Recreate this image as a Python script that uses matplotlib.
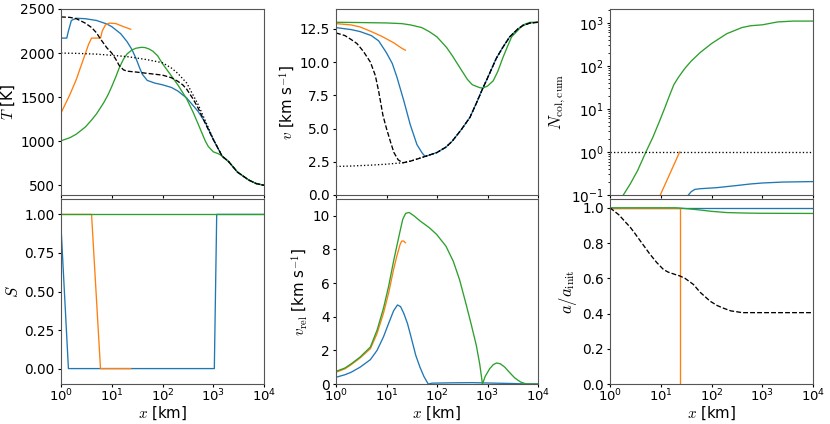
import matplotlib
matplotlib.use("Agg")
import matplotlib.pyplot as plt
from matplotlib.ticker import NullLocator

plt.rcParams['mathtext.fontset'] = 'cm'
plt.rcParams['font.size'] = 10.5
plt.rcParams['axes.labelsize'] = 10.8
plt.rcParams['xtick.labelsize'] = 9.5
plt.rcParams['ytick.labelsize'] = 9.8
plt.rcParams['axes.edgecolor'] = '#555555'
plt.rcParams['axes.linewidth'] = 0.8
plt.rcParams['xtick.major.size'] = 1.8
plt.rcParams['xtick.major.pad'] = 0.6
plt.rcParams['ytick.major.size'] = 2.5
plt.rcParams['ytick.minor.size'] = 1.5
plt.rcParams['ytick.major.pad'] = 2.0
plt.rcParams['axes.labelpad'] = 2.0

C_BLUE, C_ORANGE, C_GREEN = '#1f77b4', '#ff7f0e', '#2ca02c'

# ---------------- Temperature panel ----------------
T_blue_x = [1, 1.3, 1.4, 1.6, 2, 3, 5, 8, 10, 15, 20, 25, 30, 35, 40, 50, 70, 100, 150, 200, 300, 500, 700, 1000,
            1500, 2000, 3000, 5000, 7000, 10000]
T_blue_y = [2170, 2170, 2250, 2370, 2395, 2390, 2370, 2330, 2300, 2220, 2130, 2040, 1940, 1840, 1760, 1690, 1660,
            1640, 1610, 1570, 1490, 1340, 1210, 1020, 830, 770, 650, 560, 520, 500]

T_orange_x = [1, 1.5, 2, 2.5, 3, 3.5, 4, 6, 6.5, 7.5, 9, 12, 17, 23.6]
T_orange_y = [1320, 1530, 1700, 1860, 1990, 2100, 2170, 2170, 2250, 2320, 2340, 2335, 2300, 2270]

T_green_x = [1, 1.5, 2, 3, 4, 5, 6, 7, 8.5, 10, 12, 14, 17, 20, 25, 30, 38, 45, 55, 65, 80, 100, 150, 200, 300, 400,
             500, 700, 800, 1000, 1300, 1500, 2000, 3000, 5000, 7000, 10000]
T_green_y = [1005, 1040, 1080, 1160, 1240, 1310, 1380, 1440, 1530, 1620, 1730, 1830, 1930, 1990, 2035, 2055, 2065,
             2063, 2045, 2020, 1970, 1880, 1740, 1640, 1480, 1330, 1200, 1000, 940, 880, 855, 830, 770, 650, 560, 520,
             500]

T_dash_x = [1, 1.5, 2, 3, 4, 5, 6, 8, 10, 12, 14, 17, 20, 30, 50, 100, 150, 200, 250, 300, 400, 500, 700, 1000,
            1500, 2000, 3000, 5000, 7000, 10000]
T_dash_y = [2410, 2405, 2390, 2340, 2290, 2230, 2160, 2060, 2000, 1930, 1860, 1810, 1795, 1785, 1770, 1750, 1720,
            1680, 1640, 1590, 1480, 1380, 1200, 1020, 830, 770, 650, 560, 520, 500]

T_dot_x = [1, 2, 3, 5, 10, 20, 30, 50, 100, 150, 200, 300, 500, 700, 1000, 1500, 2000, 3000, 5000, 7000, 10000]
T_dot_y = [2000, 1997, 1993, 1988, 1975, 1960, 1945, 1925, 1890, 1830, 1770, 1660, 1420, 1230, 1025, 830, 770, 650,
           560, 520, 500]

# ---------------- Velocity panel ----------------
v_blue_x = [1, 2, 3, 5, 7, 10, 13, 16, 22, 29.5, 40, 50, 58, 100, 150, 200, 300, 450, 600, 800, 1000, 1500, 2000,
            2750, 4000, 5000, 7000, 10000]
v_blue_y = [12.6, 12.45, 12.3, 12.0, 11.6, 10.7, 9.9, 8.9, 7.1, 5.3, 3.8, 3.2, 2.9, 3.2, 3.6, 4.05, 4.9, 5.85, 6.9,
            8.0, 8.8, 10.3, 11.1, 11.9, 12.5, 12.75, 12.95, 13.0]

v_orange_x = [1, 2, 3, 5, 8, 14, 20, 23.6]
v_orange_y = [12.9, 12.8, 12.65, 12.3, 11.95, 11.45, 11.05, 10.9]

v_green_x = [1, 3, 10, 20, 30, 50, 70, 100, 155, 200, 282, 400, 500, 700, 810, 1000, 1300, 1600, 2000, 2500, 3000,
             4000, 5000, 7000, 10000]
v_green_y = [13.0, 12.98, 12.95, 12.9, 12.8, 12.6, 12.3, 11.9, 11.1, 10.5, 9.6, 8.7, 8.3, 8.08, 8.05, 8.2, 8.6,
             9.3, 10.3, 11.2, 11.9, 12.4, 12.8, 13.0, 13.0]

v_dash_x = [1, 1.5, 2, 2.6, 3.5, 4.8, 6, 7, 8.5, 10, 12, 14, 17, 21, 30, 40, 58, 100, 150, 200, 300, 450, 600, 800,
            1000, 1500, 2000, 2750, 4000, 5000, 7000, 10000]
v_dash_y = [12.2, 12.0, 11.7, 11.4, 10.8, 10.0, 9.0, 7.8, 6.0, 5.0, 4.0, 3.2, 2.65, 2.42, 2.55, 2.7, 2.9, 3.2, 3.6,
            4.05, 4.9, 5.85, 6.9, 8.0, 8.8, 10.3, 11.1, 11.9, 12.5, 12.75, 12.95, 13.0]

v_dot_x = [1, 2, 5, 10, 20, 30, 40, 58, 100, 150, 200, 300, 450, 600, 800, 1000, 1500, 2000, 2750, 4000, 5000,
           7000, 10000]
v_dot_y = [2.15, 2.18, 2.25, 2.32, 2.42, 2.55, 2.7, 2.9, 3.2, 3.6, 4.05, 4.9, 5.85, 6.9, 8.0, 8.8, 10.3, 11.1, 11.9,
           12.5, 12.75, 12.95, 13.0]
v_ticks = [0.0, 2.5, 5.0, 7.5, 10.0, 12.5]

# ---------------- Cumulative collisions ----------------
N_blue_x = [35, 40, 47, 60, 126, 300, 575, 1000, 2600, 10000]
N_blue_y = [0.1, 0.12, 0.135, 0.14, 0.148, 0.165, 0.18, 0.19, 0.2, 0.205]

N_orange_x = [9.8, 23.6]
N_orange_y = [0.1, 1.0]

N_green_x = [1.83, 2.5, 3.5, 5.1, 7, 9, 11.8, 15, 18, 22, 26, 30, 40, 60, 100, 200, 400, 600, 1000, 2000, 4000,
             10000]
N_green_y = [0.1, 0.18, 0.37, 1.0, 2.2, 4.5, 10, 21, 36, 53, 70, 88, 130, 205, 330, 560, 780, 860, 900, 1050, 1100,
             1100]

N_ref_x = [1, 10000]
N_ref_y = [1.0, 1.0]

# ---------------- S panel ----------------
S_blue_x = [1, 1.4, 1050, 1170, 10000]
S_blue_y = [0.92, 0.0, 0.0, 1.0, 1.0]

S_orange_x = [1, 4.0, 6.0, 23.6]
S_orange_y = [1.0, 1.0, 0.0, 0.0]

S_green_x = [1, 10000]
S_green_y = [1.0, 1.0]
S_ticks = [0.0, 0.25, 0.5, 0.75, 1.0]

# ---------------- Relative velocity ----------------
vr_blue_x = [1, 1.5, 2, 3, 4.8, 6.5, 8.7, 11, 13.8, 16.5, 19, 22, 26, 30, 38, 46, 55, 67, 80, 200, 500, 1000, 2000,
             3000, 5000, 10000]
vr_blue_y = [0.4, 0.55, 0.7, 1.0, 1.45, 2.0, 2.8, 3.6, 4.35, 4.7, 4.6, 4.2, 3.6, 2.9, 1.7, 1.0, 0.45, 0.0, 0.05,
             0.07, 0.08, 0.06, 0.04, 0.03, 0.01, 0.0]

vr_orange_x = [1, 1.5, 2, 3, 4.8, 6.5, 8.7, 11, 13.8, 16, 18.6, 20, 22, 23.6]
vr_orange_y = [0.7, 0.9, 1.15, 1.55, 2.1, 3.0, 4.2, 5.4, 6.8, 7.6, 8.3, 8.5, 8.5, 8.4]

vr_green_x = [1, 1.5, 2, 3, 4.8, 6.5, 8.7, 11, 13.8, 16, 18.6, 21, 24, 28, 35, 46, 70, 98, 150, 210, 280, 380, 480,
              600, 700, 795, 900, 1100, 1300, 1510, 1800, 2200, 2800, 3500, 4500, 5900, 10000]
vr_green_y = [0.75, 0.95, 1.2, 1.6, 2.2, 3.2, 4.5, 5.8, 7.3, 8.2, 9.1, 9.8, 10.15, 10.2, 10.0, 9.7, 9.3, 8.9, 8.2,
              7.3, 6.2, 4.7, 3.5, 2.3, 1.2, 0.0, 0.45, 0.9, 1.15, 1.25, 1.2, 1.0, 0.65, 0.35, 0.12, 0.0, 0.0]

# ---------------- Size ratio ----------------
a_blue_x = [1, 10000]
a_blue_y = [1.0, 1.0]

a_orange_x = [1, 23.6, 23.6]
a_orange_y = [1.0, 1.0, 0.0]

a_green_x = [1, 20, 25, 50, 100, 200, 500, 1000, 10000]
a_green_y = [1.0, 1.0, 0.998, 0.99, 0.98, 0.973, 0.97, 0.969, 0.968]

a_dash_x = [1, 1.5, 2, 2.5, 3, 4.5, 6, 8.3, 11.3, 14, 20, 23.4, 30, 44, 60, 94, 130, 173, 240, 316, 400, 10000]
a_dash_y = [1.0, 0.96, 0.92, 0.89, 0.86, 0.79, 0.74, 0.69, 0.65, 0.635, 0.62, 0.614, 0.6, 0.565, 0.52, 0.47, 0.445,
            0.43, 0.415, 0.41, 0.405, 0.405]

LW = 0.95

fig = plt.figure(figsize=(8.3, 4.24), dpi=100)
lefts = [61 / 830, 336 / 830, 610 / 830]
widths = [203 / 830, 202 / 830, 203 / 830]
top_b, top_h = (424 - 195) / 424, 186 / 424
bot_b, bot_h = (424 - 384) / 424, 185 / 424

axT = fig.add_axes([lefts[0], top_b, widths[0], top_h])
axV = fig.add_axes([lefts[1], top_b, widths[1], top_h])
axN = fig.add_axes([lefts[2], top_b, widths[2], top_h])
axS = fig.add_axes([lefts[0], bot_b, widths[0], bot_h])
axR = fig.add_axes([lefts[1], bot_b, widths[1], bot_h])
axA = fig.add_axes([lefts[2], bot_b, widths[2], bot_h])

# T
axT.plot(T_blue_x, T_blue_y, color=C_BLUE, lw=LW)
axT.plot(T_orange_x, T_orange_y, color=C_ORANGE, lw=LW)
axT.plot(T_green_x, T_green_y, color=C_GREEN, lw=LW)
axT.plot(T_dot_x, T_dot_y, color='k', ls=':', lw=LW)
axT.plot(T_dash_x, T_dash_y, color='k', ls='--', lw=LW)
axT.set_ylim(390, 2500)
axT.set_ylabel('$T$ [K]')

# v
axV.plot(v_blue_x, v_blue_y, color=C_BLUE, lw=LW)
axV.plot(v_orange_x, v_orange_y, color=C_ORANGE, lw=LW)
axV.plot(v_green_x, v_green_y, color=C_GREEN, lw=LW)
axV.plot(v_dot_x, v_dot_y, color='k', ls=':', lw=LW)
axV.plot(v_dash_x, v_dash_y, color='k', ls='--', lw=LW)
axV.set_ylim(0, 14)
axV.set_yticks(v_ticks)
axV.set_ylabel('$v$ [km s$^{-1}$]')

# N
axN.plot(N_blue_x, N_blue_y, color=C_BLUE, lw=LW)
axN.plot(N_orange_x, N_orange_y, color=C_ORANGE, lw=LW)
axN.plot(N_green_x, N_green_y, color=C_GREEN, lw=LW)
axN.plot(N_ref_x, N_ref_y, color='k', ls=':', lw=LW)
axN.set_yscale('log')
axN.set_ylim(0.1, 2100)
axN.set_ylabel(r'$N_{\rm col,cum}$', fontsize=12)

# S
axS.plot(S_blue_x, S_blue_y, color=C_BLUE, lw=LW)
axS.plot(S_orange_x, S_orange_y, color=C_ORANGE, lw=LW)
axS.plot(S_green_x, S_green_y, color=C_GREEN, lw=LW)
axS.set_ylim(-0.1, 1.1)
axS.set_yticks(S_ticks)
axS.set_ylabel('$S$', fontsize=12)

# v_rel
axR.plot(vr_blue_x, vr_blue_y, color=C_BLUE, lw=LW)
axR.plot(vr_orange_x, vr_orange_y, color=C_ORANGE, lw=LW)
axR.plot(vr_green_x, vr_green_y, color=C_GREEN, lw=LW)
axR.set_ylim(0, 11)
axR.set_ylabel(r'$v_{\rm rel}$ [km s$^{-1}$]')

# a/a_init
axA.plot(a_blue_x, a_blue_y, color=C_BLUE, lw=LW)
axA.plot(a_orange_x, a_orange_y, color=C_ORANGE, lw=LW)
axA.plot(a_green_x, a_green_y, color=C_GREEN, lw=LW)
axA.plot(a_dash_x, a_dash_y, color='k', ls='--', lw=LW)
axA.set_ylim(0, 1.05)
axA.set_ylabel(r'$a/a_{\rm init}$', fontsize=12)

for ax in [axT, axV, axN, axS, axR, axA]:
    ax.set_xscale('log')
    ax.set_xlim(1, 1e4)
    ax.xaxis.set_minor_locator(NullLocator())
for ax in [axT, axV, axN]:
    ax.tick_params(labelbottom=False)
for ax in [axS, axR, axA]:
    ax.set_xlabel('$x$ [km]', labelpad=0.5)

fig.savefig('out.png', dpi=100)
